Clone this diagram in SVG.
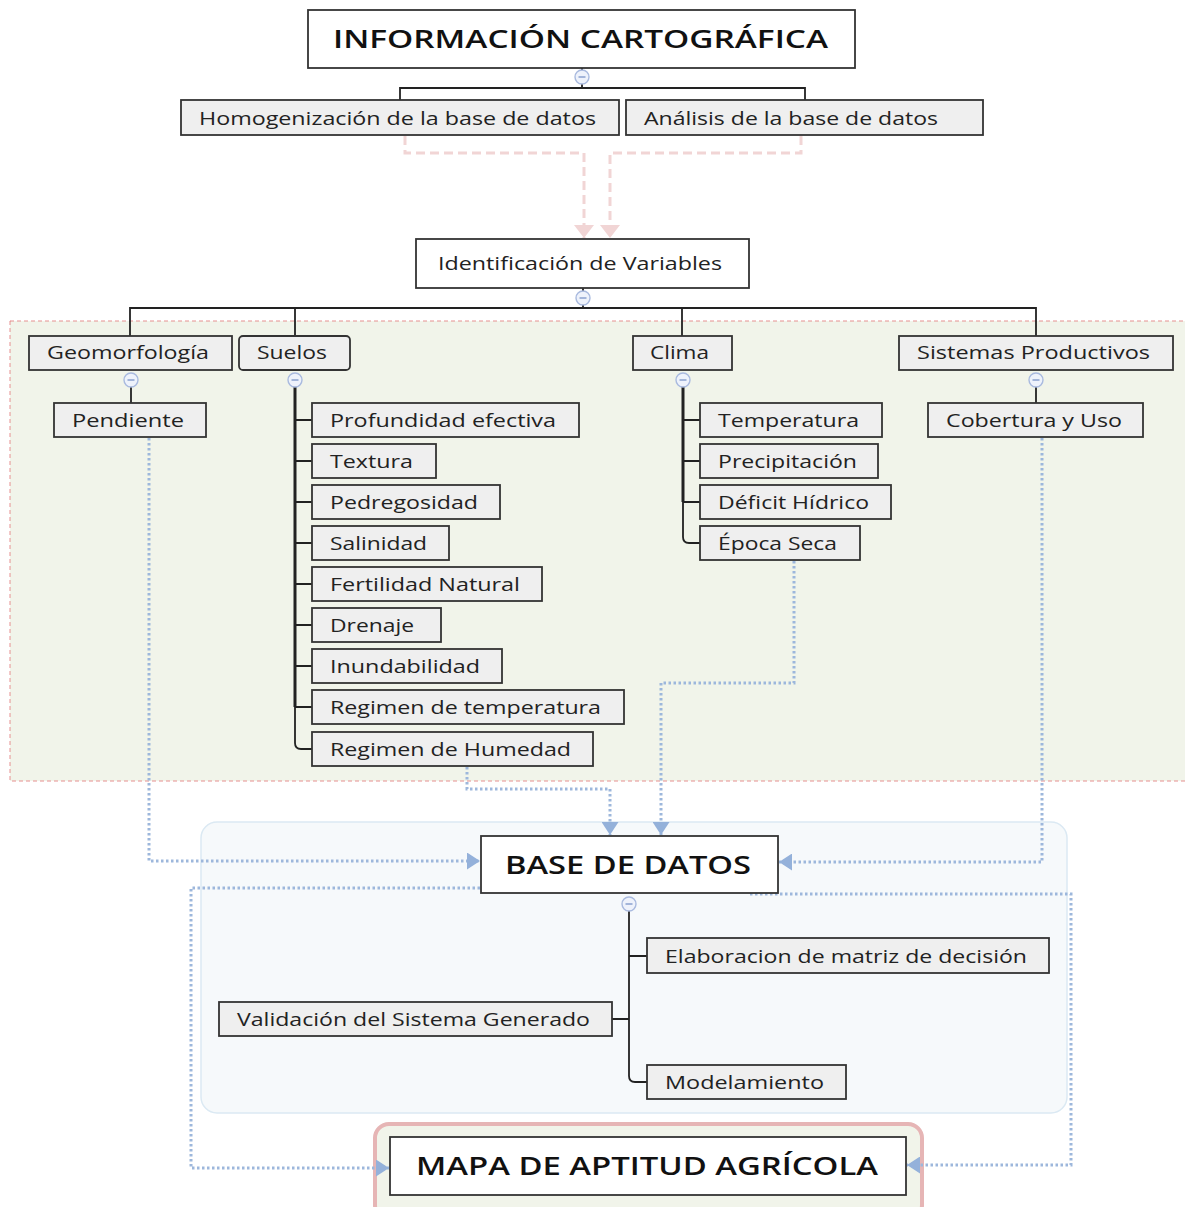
<svg xmlns="http://www.w3.org/2000/svg" width="1185" height="1207" viewBox="0 0 1185 1207">
  <defs>
    <style>
      .box { fill: #efefef; stroke: #333; stroke-width: 1.8; }
      .main { fill: #ffffff; stroke: #333; stroke-width: 1.8; }
      .t { font-family: "Open Sans", "Noto Sans", "DejaVu Sans", sans-serif; font-size: 19px; fill: #222; }
      .big { font-family: "Open Sans", "Noto Sans", "DejaVu Sans", sans-serif; font-size: 26px; font-weight: 600; fill: #111; }
      .tree { fill: none; stroke: #222; stroke-width: 1.8; }
      .trunk { fill: none; stroke: #222; stroke-width: 3; }
      .toggle { fill: #eef2fb; stroke: #a9badf; stroke-width: 1.4; }
      .toggle-bar { stroke: #8aa0cf; stroke-width: 1.5; }
      .pink { fill: none; stroke: #f1d5d5; stroke-width: 3; stroke-dasharray: 9 5; }
      .blue { fill: none; stroke: #9db7dc; stroke-width: 3; stroke-dasharray: 2.5 2.5; }
    </style>
    <marker id="arrPink" markerUnits="userSpaceOnUse" markerWidth="13" markerHeight="20" viewBox="0 0 13 20" refX="13" refY="10" orient="auto">
      <path d="M0,0 L13,10 L0,20 Z" fill="#f1d5d5"/>
    </marker>
    <marker id="arrBlue" markerUnits="userSpaceOnUse" markerWidth="13" markerHeight="17" viewBox="0 0 13 17" refX="13" refY="8.5" orient="auto">
      <path d="M0,0 L13,8.5 L0,17 Z" fill="#94b1da"/>
    </marker>
  </defs>

  <rect width="1185" height="1207" fill="#ffffff"/>

  <!-- background zones -->
  <g id="zones">
    <rect x="10" y="321" width="1180" height="460" fill="#f1f4ea" stroke="#e69090" stroke-width="1" stroke-dasharray="4 3"/>
    <rect x="201" y="822" width="866" height="291" rx="16" fill="#f6f9fb" stroke="#dbe9f3" stroke-width="1.5"/>
    <rect x="375" y="1124" width="547" height="95" rx="14" fill="#f1f4ea" stroke="#e6b5b5" stroke-width="4"/>
  </g>

  <!-- connectors -->
  <g id="connectors">
    <!-- tree lines -->
    <path class="tree" d="M582,68 V88 M400,100 V88 H805 V100"/>
    <path class="tree" d="M583,288 V308 M130,336 V308 H1036 V336 M295,308 V336 M682,308 V336"/>
    <path class="tree" d="M131,386 V403"/>
    <path class="tree" d="M1036,386 V403"/>
    <path class="trunk" d="M295,386 V707"/>
    <path class="tree" d="M295,700 V743 Q295,749 301,749 H312"/>
    <path class="tree" d="M295,420 H312 M295,461 H312 M295,502 H312 M295,543 H312 M295,584 H312 M295,625 H312 M295,666 H312 M295,707 H312"/>
    <path class="trunk" d="M683,386 V502"/>
    <path class="tree" d="M683,500 V537 Q683,543 689,543 H700"/>
    <path class="tree" d="M683,420 H700 M683,461 H700 M683,502 H700"/>
    <path class="tree" d="M629,910 V1076 Q629,1082 635,1082 H647"/>
    <path class="tree" d="M629,956 H647 M612,1019 H629"/>

    <!-- pink dashed links -->
    <path class="pink" d="M405,136 V153 H584 V238" marker-end="url(#arrPink)"/>
    <path class="pink" d="M801,136 V153 H610 V238" marker-end="url(#arrPink)"/>

    <!-- blue dotted links -->
    <path class="blue" d="M149,438 V861 H480" marker-end="url(#arrBlue)"/>
    <path class="blue" d="M467,767 V789 H610 V835" marker-end="url(#arrBlue)"/>
    <path class="blue" d="M794,561 V683 H661 V835" marker-end="url(#arrBlue)"/>
    <path class="blue" d="M1042,438 V862 H779" marker-end="url(#arrBlue)"/>
    <path class="blue" d="M480,888 H191 V1168 H389" marker-end="url(#arrBlue)"/>
    <path class="blue" d="M750,894 H1071 V1165 H907" marker-end="url(#arrBlue)"/>

    <!-- collapse toggles -->
    <g>
      <circle class="toggle" cx="582" cy="77" r="7"/><line class="toggle-bar" x1="578.5" y1="77" x2="585.5" y2="77"/>
      <circle class="toggle" cx="583" cy="298" r="7"/><line class="toggle-bar" x1="579.5" y1="298" x2="586.5" y2="298"/>
      <circle class="toggle" cx="131" cy="380" r="7"/><line class="toggle-bar" x1="127.5" y1="380" x2="134.5" y2="380"/>
      <circle class="toggle" cx="295" cy="380" r="7"/><line class="toggle-bar" x1="291.5" y1="380" x2="298.5" y2="380"/>
      <circle class="toggle" cx="683" cy="380" r="7"/><line class="toggle-bar" x1="679.5" y1="380" x2="686.5" y2="380"/>
      <circle class="toggle" cx="1036" cy="380" r="7"/><line class="toggle-bar" x1="1032.5" y1="380" x2="1039.5" y2="380"/>
      <circle class="toggle" cx="629" cy="904" r="7"/><line class="toggle-bar" x1="625.5" y1="904" x2="632.5" y2="904"/>
    </g>
  </g>

  <!-- nodes -->
  <g id="n-info">
    <rect class="main" x="308" y="10" width="547" height="58"/>
    <text class="big" x="333" y="48" textLength="495" lengthAdjust="spacingAndGlyphs">INFORMACIÓN CARTOGRÁFICA</text>
  </g>
  <g id="n-homog">
    <rect class="box" x="181" y="100" width="438" height="35"/>
    <text class="t" x="199" y="125" textLength="397" lengthAdjust="spacingAndGlyphs">Homogenización de la base de datos</text>
  </g>
  <g id="n-analisis">
    <rect class="box" x="626" y="100" width="357" height="35"/>
    <text class="t" x="644" y="125" textLength="294" lengthAdjust="spacingAndGlyphs">Análisis de la base de datos</text>
  </g>
  <g id="n-ident">
    <rect class="main" x="416" y="239" width="333" height="49"/>
    <text class="t" x="438" y="270" textLength="284" lengthAdjust="spacingAndGlyphs">Identificación de Variables</text>
  </g>

  <g id="n-geomorfologia">
    <rect class="box" x="29" y="336" width="203" height="34"/>
    <text class="t" x="47" y="359" textLength="162" lengthAdjust="spacingAndGlyphs">Geomorfología</text>
  </g>
  <g id="n-suelos">
    <rect class="box" x="239" y="336" width="111" height="34" rx="4"/>
    <text class="t" x="257" y="359" textLength="70" lengthAdjust="spacingAndGlyphs">Suelos</text>
  </g>
  <g id="n-clima">
    <rect class="box" x="633" y="336" width="99" height="34"/>
    <text class="t" x="650" y="359" textLength="59" lengthAdjust="spacingAndGlyphs">Clima</text>
  </g>
  <g id="n-sistemas">
    <rect class="box" x="899" y="336" width="274" height="34"/>
    <text class="t" x="917" y="359" textLength="233" lengthAdjust="spacingAndGlyphs">Sistemas Productivos</text>
  </g>

  <g id="n-pendiente">
    <rect class="box" x="54" y="403" width="152" height="34"/>
    <text class="t" x="72" y="427" textLength="112" lengthAdjust="spacingAndGlyphs">Pendiente</text>
  </g>
  <g id="n-cobertura">
    <rect class="box" x="928" y="403" width="215" height="34"/>
    <text class="t" x="946" y="427" textLength="176" lengthAdjust="spacingAndGlyphs">Cobertura y Uso</text>
  </g>

  <g id="n-profundidad">
    <rect class="box" x="312" y="403" width="267" height="34"/>
    <text class="t" x="330" y="427" textLength="226" lengthAdjust="spacingAndGlyphs">Profundidad efectiva</text>
  </g>
  <g id="n-textura">
    <rect class="box" x="312" y="444" width="124" height="34"/>
    <text class="t" x="330" y="468" textLength="83" lengthAdjust="spacingAndGlyphs">Textura</text>
  </g>
  <g id="n-pedregosidad">
    <rect class="box" x="312" y="485" width="188" height="34"/>
    <text class="t" x="330" y="509" textLength="148" lengthAdjust="spacingAndGlyphs">Pedregosidad</text>
  </g>
  <g id="n-salinidad">
    <rect class="box" x="312" y="526" width="137" height="34"/>
    <text class="t" x="330" y="550" textLength="97" lengthAdjust="spacingAndGlyphs">Salinidad</text>
  </g>
  <g id="n-fertilidad">
    <rect class="box" x="312" y="567" width="230" height="34"/>
    <text class="t" x="330" y="591" textLength="190" lengthAdjust="spacingAndGlyphs">Fertilidad Natural</text>
  </g>
  <g id="n-drenaje">
    <rect class="box" x="312" y="608" width="129" height="34"/>
    <text class="t" x="330" y="632" textLength="84" lengthAdjust="spacingAndGlyphs">Drenaje</text>
  </g>
  <g id="n-inundabilidad">
    <rect class="box" x="312" y="649" width="190" height="34"/>
    <text class="t" x="330" y="673" textLength="150" lengthAdjust="spacingAndGlyphs">Inundabilidad</text>
  </g>
  <g id="n-reg-temp">
    <rect class="box" x="312" y="690" width="312" height="34"/>
    <text class="t" x="330" y="714" textLength="271" lengthAdjust="spacingAndGlyphs">Regimen de temperatura</text>
  </g>
  <g id="n-reg-hum">
    <rect class="box" x="312" y="732" width="281" height="34"/>
    <text class="t" x="330" y="756" textLength="241" lengthAdjust="spacingAndGlyphs">Regimen de Humedad</text>
  </g>

  <g id="n-temperatura">
    <rect class="box" x="700" y="403" width="182" height="34"/>
    <text class="t" x="718" y="427" textLength="141" lengthAdjust="spacingAndGlyphs">Temperatura</text>
  </g>
  <g id="n-precipitacion">
    <rect class="box" x="700" y="444" width="178" height="34"/>
    <text class="t" x="718" y="468" textLength="139" lengthAdjust="spacingAndGlyphs">Precipitación</text>
  </g>
  <g id="n-deficit">
    <rect class="box" x="700" y="485" width="191" height="34"/>
    <text class="t" x="718" y="509" textLength="151" lengthAdjust="spacingAndGlyphs">Déficit Hídrico</text>
  </g>
  <g id="n-epoca">
    <rect class="box" x="700" y="526" width="160" height="34"/>
    <text class="t" x="718" y="550" textLength="119" lengthAdjust="spacingAndGlyphs">Época Seca</text>
  </g>

  <g id="n-base">
    <rect class="main" x="481" y="836" width="297" height="57"/>
    <text class="big" x="505" y="874" textLength="246" lengthAdjust="spacingAndGlyphs">BASE DE DATOS</text>
  </g>
  <g id="n-matriz">
    <rect class="box" x="647" y="938" width="402" height="35"/>
    <text class="t" x="665" y="963" textLength="362" lengthAdjust="spacingAndGlyphs">Elaboracion de matriz de decisión</text>
  </g>
  <g id="n-validacion">
    <rect class="box" x="219" y="1002" width="393" height="34"/>
    <text class="t" x="237" y="1026" textLength="353" lengthAdjust="spacingAndGlyphs">Validación del Sistema Generado</text>
  </g>
  <g id="n-modelamiento">
    <rect class="box" x="647" y="1065" width="199" height="34"/>
    <text class="t" x="665" y="1089" textLength="159" lengthAdjust="spacingAndGlyphs">Modelamiento</text>
  </g>

  <g id="n-mapa">
    <rect class="main" x="390" y="1137" width="516" height="58"/>
    <text class="big" x="416" y="1175" textLength="462" lengthAdjust="spacingAndGlyphs">MAPA DE APTITUD AGRÍCOLA</text>
  </g>
</svg>
